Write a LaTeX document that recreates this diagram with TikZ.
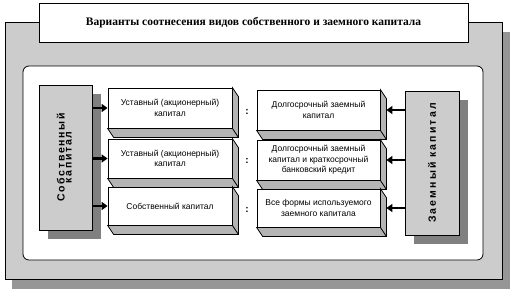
\documentclass[tikz,border=0pt]{standalone}
\usepackage{fontspec}
\setmainfont{Liberation Sans}
\newfontfamily\titlefont{Liberation Serif}
\newfontfamily\vlfont[LetterSpace=16]{Liberation Sans}
\newfontfamily\vrfont[LetterSpace=20]{Liberation Sans}
\usetikzlibrary{arrows.meta}
\definecolor{panelgray}{RGB}{204,204,204}
\definecolor{panelshadow}{RGB}{150,150,150}
\definecolor{vshadow}{RGB}{128,128,128}
\definecolor{sidegray}{RGB}{180,180,180}
\tikzset{
  panelbox/.style={draw=black, fill=panelgray, line width=0.8pt, inner sep=0pt, minimum width=497pt, minimum height=257pt},
  titlebox/.style={draw=black, fill=white, line width=0.8pt, font=\titlefont\bfseries\fontsize{11.5}{13}\selectfont, minimum width=429pt, minimum height=39pt, inner sep=0pt},
  innerbox/.style={draw=black, fill=white, line width=0.8pt, rounded corners=6pt, minimum width=460pt, minimum height=194pt, inner sep=0pt},
  vbox/.style={draw=black, fill=panelgray, line width=0.8pt, inner sep=0pt},
  mbox/.style={draw=black, fill=white, line width=0.8pt, align=center, font=\fontsize{8.5}{10.5}\selectfont, minimum width=124pt, inner sep=0pt},
  sideface/.style={draw=black, fill=sidegray, line width=0.8pt, line join=miter},
  arr/.style={line width=2.6pt, -{Triangle[length=6pt,width=8pt]}},
  colon/.style={font=\bfseries\fontsize{10}{12}\selectfont, inner sep=0pt},
}
\newcommand\boxsides[1]{%
  \draw[sideface] (#1.south west) -- ++(6,9) -- ([shift={(6,9)}]#1.south east) -- ([shift={(6,9)}]#1.north east) -- (#1.north east) -- (#1.south east) -- cycle;
  \draw[line width=0.8pt] (#1.south east) -- ++(6,9);
}
\begin{document}
\begin{tikzpicture}[x=1pt,y=-1pt]
\useasboundingbox (0,0) rectangle (512,290);
% outer panel with shadow
\fill[panelshadow] (12,32) rectangle (510,289);
\node[panelbox] (panel) at (253.5,150.5) {};
\node[titlebox] (title) at (253.5,22.5) {Варианты соотнесения видов собственного и заемного капитала};
\node[innerbox] (inner) at (253,163) {};
% vertical boxes
\fill[vshadow] (48,94) rectangle (101,239);
\node[vbox, minimum width=53pt, minimum height=145pt] (L) at (65.5,157.5)
  {\rotatebox{90}{\vlfont\bfseries\fontsize{10.5}{8}\selectfont\begin{tabular}{@{}c@{}}Собственный\\[-1pt]капитал\end{tabular}}};
\fill[vshadow] (414,100) rectangle (468,244);
\node[vbox, minimum width=54pt, minimum height=144pt] (R) at (432,163)
  {\rotatebox{90}{\vrfont\bfseries\fontsize{10.5}{12}\selectfont Заемный капитал}};
% middle boxes
\node[mbox, minimum height=40pt] (m1) at (170,108) {Уставный (акционерный)\\капитал};
\node[mbox, minimum height=39pt] (m2) at (170,158.5) {Уставный (акционерный)\\капитал};
\node[mbox, minimum height=38pt] (m3) at (170,206) {Собственный капитал};
\node[mbox, minimum width=123pt, minimum height=40pt] (r1) at (318.5,110) {Долгосрочный заемный\\капитал};
\node[mbox, minimum width=123pt, minimum height=40pt] (r2) at (318.5,160) {Долгосрочный заемный\\капитал и краткосрочный\\банковский кредит};
\node[mbox, minimum width=123pt, minimum height=38pt] (r3) at (318.5,208) {Все формы используемого\\заемного капитала};
\boxsides{m1}\boxsides{m2}\boxsides{m3}
\boxsides{r1}\boxsides{r2}\boxsides{r3}
% colons
\node[colon] (c1) at (247,112) {:};
\node[colon] (c2) at (247,161) {:};
\node[colon] (c3) at (247,210) {:};
% arrows
\draw[arr] (L.east |- m1.west) -- (m1.west);
\draw[arr] (L.east |- m2.west) -- (m2.west);
\draw[arr] (L.east |- m3.west) -- (m3.west);
\draw[arr] (R.west |- r1.east) -- ([xshift=6pt]r1.east);
\draw[arr] (R.west |- r2.east) -- ([xshift=6pt]r2.east);
\draw[arr] (R.west |- r3.east) -- ([xshift=6pt]r3.east);
\end{tikzpicture}
\end{document}
